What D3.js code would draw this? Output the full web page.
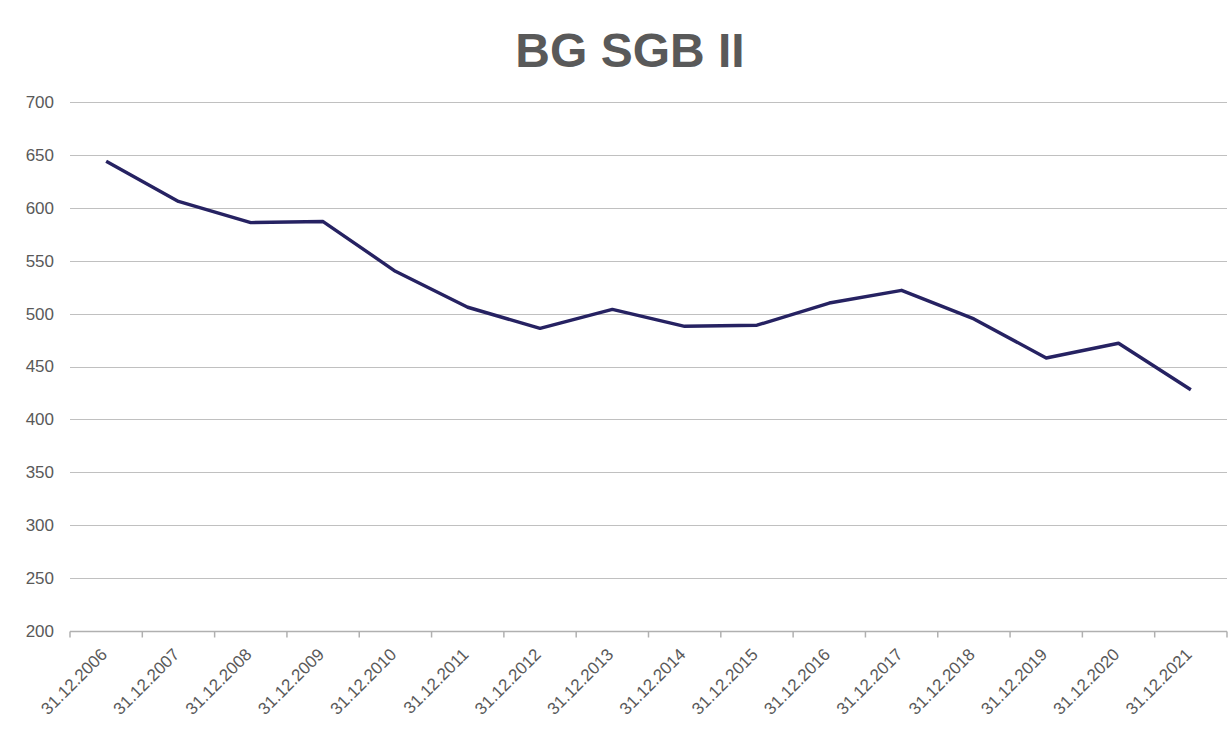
<!DOCTYPE html>
<html>
<head>
<meta charset="utf-8">
<script src="https://cdn.jsdelivr.net/npm/d3@7"></script>
<style>
  body { margin: 0; background: #fff; }
  svg { display: block; font-family: 'Liberation Sans', Arial, sans-serif; }
</style>
</head>
<body>
<svg width="1231" height="731"></svg>
<script>
const title = 'BG SGB II'
const dates = ['31.12.2006', '31.12.2007', '31.12.2008', '31.12.2009', '31.12.2010', '31.12.2011',
  '31.12.2012', '31.12.2013', '31.12.2014', '31.12.2015', '31.12.2016', '31.12.2017',
  '31.12.2018', '31.12.2019', '31.12.2020', '31.12.2021']
const values = [644, 606, 586, 587, 540, 506, 486, 504, 488, 489, 510, 522, 495, 458, 472, 428]
const yTicks = [200, 250, 300, 350, 400, 450, 500, 550, 600, 650, 700]

const svg = d3.select('svg')
const margin = {top: 102, right: 4, bottom: 100, left: 70}
const width = 1231 - margin.left - margin.right
const height = 731 - margin.top - margin.bottom
const g = svg.append('g').attr('transform', 'translate(' + margin.left + ',' + margin.top + ')')

const x = d3.scaleBand().domain(dates).range([0, width])
const y = d3.scaleLinear().domain([200, 700]).range([height, 0])

// title
svg.append('text')
  .attr('x', 630)
  .attr('y', 67)
  .attr('text-anchor', 'middle')
  .attr('font-size', 48)
  .attr('font-weight', 'bold')
  .attr('fill', '#595959')
  .text(title)

// gridlines
g.append('g')
  .selectAll('line')
  .data(yTicks.filter(t => t > 200))
  .enter().append('line')
    .attr('x1', 0)
    .attr('x2', width)
    .attr('y1', d => Math.round(y(d)) + 0.5)
    .attr('y2', d => Math.round(y(d)) + 0.5)
    .attr('stroke', '#c0c0c0')
    .attr('stroke-width', 1.2)

// y axis labels
const yAxis = g.append('g')
  .call(d3.axisLeft(y).tickValues(yTicks).tickSize(0).tickPadding(16))
yAxis.select('.domain').remove()
yAxis.selectAll('text')
  .attr('font-size', 17)
  .attr('fill', '#595959')
  .attr('font-family', 'Liberation Sans, Arial, sans-serif')

// x axis: baseline and ticks at band edges
const xAxis = g.append('g').attr('transform', 'translate(0,' + (Math.round(height) + 0.5) + ')')
xAxis.append('line')
  .attr('x1', 0).attr('x2', width)
  .attr('stroke', '#b0b0b0').attr('stroke-width', 1.5)
xAxis.selectAll('.tick')
  .data(dates.map(d => x(d)).concat([width]))
  .enter().append('line')
    .attr('class', 'tick')
    .attr('x1', d => d).attr('x2', d => d)
    .attr('y1', 0).attr('y2', 6)
    .attr('stroke', '#b0b0b0').attr('stroke-width', 1.5)

xAxis.selectAll('text')
  .data(dates)
  .enter().append('text')
    .attr('transform', d => 'translate(' + (x(d) + x.bandwidth() / 2 + 2) + ',24) rotate(-45)')
    .attr('text-anchor', 'end')
    .attr('font-size', 17)
    .attr('fill', '#595959')
    .text(d => d)

// line
const line = d3.line()
  .x((d, i) => x(dates[i]) + x.bandwidth() / 2)
  .y(d => y(d))

g.append('path')
  .datum(values)
  .attr('fill', 'none')
  .attr('stroke', '#262262')
  .attr('stroke-width', 3.4)
  .attr('stroke-linejoin', 'round')
  .attr('d', line)
</script>
</body>
</html>
